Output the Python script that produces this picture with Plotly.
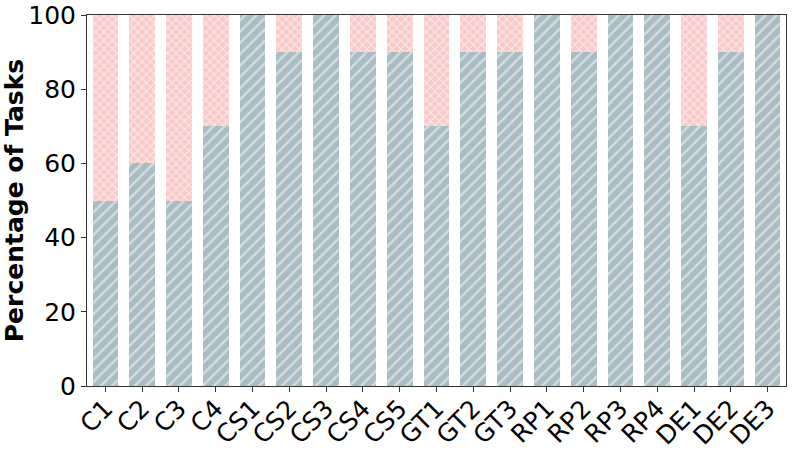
# stacked percentage bars per task group
import plotly.graph_objects as go

tasks = ["C1", "C2", "C3", "C4", "CS1", "CS2", "CS3", "CS4", "CS5", "GT1",
         "GT2", "GT3", "RP1", "RP2", "RP3", "RP4", "DE1", "DE2", "DE3"]
success = [50, 60, 50, 70, 100, 90, 100, 90, 90, 70,
           90, 90, 100, 90, 100, 100, 70, 90, 100]
failure = [100 - v for v in success]

font_family = "DejaVu Sans"

fig = go.Figure()
fig.add_trace(go.Bar(
    x=tasks, y=success, width=0.7,
    marker=dict(color="#a9bcc4", line=dict(width=0),
                pattern=dict(shape="/", fgcolor="white", bgcolor="#a9bcc4",
                             size=8, solidity=0.3)),
))
fig.add_trace(go.Bar(
    x=tasks, y=failure, width=0.7,
    marker=dict(color="#f9c8c8", line=dict(width=0),
                pattern=dict(shape="x", fgcolor="white", bgcolor="#f9c8c8",
                             size=6, solidity=0.4)),
))

fig.update_layout(
    barmode="stack",
    showlegend=False,
    width=793, height=451,
    margin=dict(l=87, r=7, t=15, b=65, autoexpand=False),
    plot_bgcolor="white", paper_bgcolor="white",
    font=dict(family=font_family, size=25, color="black"),
)
fig.update_xaxes(
    range=[-0.5, 18.5], tickangle=-45, automargin=False,
    ticklabeloverflow="allow", ticklabelstandoff=-8,
    showline=True, linecolor="#333", linewidth=1, mirror=True,
    ticks="outside", ticklen=5, tickcolor="#333",
    tickfont=dict(size=25),
)
fig.update_yaxes(
    range=[0, 100], tickvals=[0, 20, 40, 60, 80, 100], automargin=False,
    ticklabeloverflow="allow",
    showline=True, linecolor="#333", linewidth=1, mirror=True,
    ticks="outside", ticklen=5, tickcolor="#333", showgrid=False,
    zeroline=False, tickfont=dict(size=25),
    title=dict(text="<b>Percentage of Tasks</b>", font=dict(size=25), standoff=17),
)

# drop the default body margin so the figure fills the window exactly
fig.write_html("out.html", config={"displayModeBar": False},
               post_script="document.body.style.margin='0';")
